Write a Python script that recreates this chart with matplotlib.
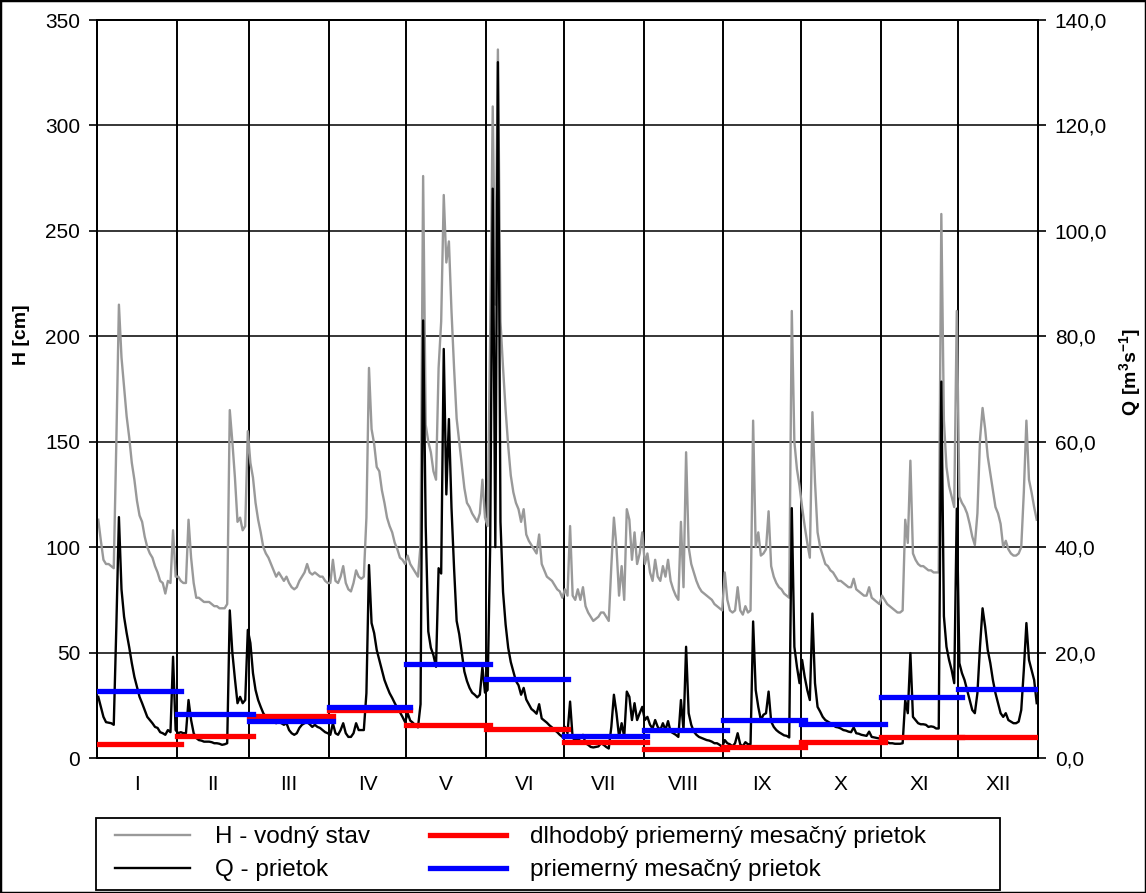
import matplotlib
matplotlib.use("Agg")
import matplotlib.pyplot as plt
from matplotlib.lines import Line2D
from matplotlib.patches import Rectangle
from matplotlib.ticker import FuncFormatter, FixedLocator

plt.rcParams["font.family"] = ["Liberation Sans", "DejaVu Sans"]
plt.rcParams["mathtext.fontset"] = "custom"
plt.rcParams["mathtext.bf"] = "Liberation Sans:bold"
plt.rcParams["mathtext.rm"] = "Liberation Sans"

month_names = ["I", "II", "III", "IV", "V", "VI", "VII", "VIII", "IX", "X", "XI", "XII"]
days_in_month = [31, 28, 31, 30, 31, 30, 31, 31, 30, 31, 30, 31]

# daily water level H [cm]
h_jan = [113, 103, 94, 92, 92, 91, 90, 150, 215, 190, 176, 162, 152, 140, 132, 122, 115, 112, 105, 100,
         97, 95, 91, 88, 84, 83, 78, 84, 83, 108, 86]
h_feb = [86, 84, 83, 83, 113, 95, 83, 76, 76, 75, 74, 74, 74, 73, 72, 72, 71, 71, 71, 73,
         165, 150, 133, 112, 114, 108, 110, 155]
h_mar = [140, 133, 121, 113, 107, 100, 97, 95, 92, 89, 86, 88, 86, 84, 86, 83, 81, 80, 81, 84,
         86, 88, 92, 88, 87, 88, 87, 86, 86, 84, 83]
h_apr = [83, 94, 84, 83, 86, 91, 83, 80, 79, 83, 89, 86, 85, 86, 114, 185, 156, 149, 138, 136,
         127, 121, 114, 110, 107, 102, 99, 95, 94, 92]
h_may = [96, 92, 90, 88, 86, 101, 276, 158, 150, 145, 136, 132, 185, 207, 267, 235, 245, 212, 185, 161,
         150, 139, 128, 121, 119, 116, 114, 112, 116, 132, 114]
h_jun = [110, 200, 309, 215, 336, 207, 185, 165, 148, 134, 126, 121, 118, 112, 118, 106, 103, 101, 99, 97,
         106, 92, 89, 86, 85, 84, 82, 80, 79, 76]
h_jul = [80, 77, 110, 77, 75, 80, 75, 81, 72, 69, 67, 65, 66, 67, 69, 69, 67, 65, 91, 114,
         100, 77, 91, 75, 118, 113, 94, 107, 92, 97, 107]
h_aug = [92, 97, 88, 84, 94, 86, 84, 91, 86, 94, 84, 80, 77, 75, 112, 81, 145, 100, 92, 88,
         84, 81, 79, 78, 77, 76, 75, 73, 72, 71, 70]
h_sep = [88, 75, 70, 69, 70, 81, 70, 68, 72, 69, 70, 160, 100, 107, 96, 97, 99, 117, 91, 86,
         83, 81, 80, 78, 77, 76, 212, 150, 137, 129]
h_oct = [119, 110, 102, 95, 164, 131, 107, 100, 96, 92, 91, 89, 88, 86, 84, 84, 83, 82, 81, 81,
         85, 80, 79, 78, 77, 77, 81, 76, 75, 74, 73]
h_nov = [77, 75, 73, 72, 71, 70, 69, 69, 70, 113, 102, 141, 97, 94, 92, 91, 91, 90, 89, 89,
         88, 88, 88, 258, 160, 138, 129, 124, 119, 212]
h_dec = [124, 121, 119, 116, 111, 105, 101, 116, 151, 166, 156, 143, 135, 127, 119, 116, 111, 100, 103, 99,
         97, 96, 96, 97, 100, 126, 160, 132, 126, 119, 113]

# daily discharge Q [m3/s]
q_jan = [11.6, 9.7, 7.8, 6.8, 6.7, 6.6, 6.3, 24.9, 45.7, 32.0, 26.8, 23.7, 21.0, 18.0, 15.4, 13.5, 11.6, 10.4,
         9.1, 7.8, 7.2, 6.6, 5.9, 5.7, 4.9, 4.7, 4.4, 5.3, 4.9, 19.2, 5.3]
q_feb = [4.7, 4.9, 4.7, 4.7, 11.0, 7.2, 4.7, 3.8, 3.4, 3.3, 3.1, 3.1, 3.1, 3.0, 2.8, 2.8, 2.7, 2.5,
         2.6, 2.8, 28.0, 20.0, 15.0, 10.4, 11.6, 10.4, 11.0, 24.3]
q_mar = [21.8, 16.1, 12.9, 11.0, 9.7, 8.5, 7.8, 7.6, 7.2, 6.8, 6.6, 6.8, 6.6, 6.3, 6.6, 5.3, 4.7, 4.4,
         4.7, 5.7, 6.3, 6.6, 6.8, 6.4, 5.9, 6.3, 5.9, 5.7, 5.3, 4.9, 4.7]
q_apr = [4.4, 6.6, 4.7, 4.4, 5.3, 6.6, 4.7, 4.0, 4.0, 4.7, 6.6, 5.3, 5.3, 5.3, 12.3, 36.6, 25.6, 23.7,
         20.5, 18.6, 16.7, 14.8, 13.5, 12.3, 11.4, 10.4, 9.5, 8.7, 7.8, 6.8]
q_may = [8.5, 7.1, 6.7, 6.2, 5.8, 10.2, 83.0, 44.0, 24.0, 20.9, 19.5, 17.3, 36.0, 35.0, 77.6, 50.0, 64.3, 47.5,
         36.0, 26.0, 23.5, 20.0, 16.4, 14.6, 13.3, 12.4, 12.0, 11.5, 12.0, 17.3, 12.4]
q_jun = [12.9, 40.0, 108.0, 40.0, 132.0, 44.8, 31.5, 25.3, 20.9, 18.2, 16.4, 14.6, 13.8, 12.0, 13.3, 11.1, 10.2, 9.3,
         8.9, 8.4, 10.2, 7.5, 7.1, 6.7, 6.2, 5.8, 5.3, 4.9, 4.4, 4.0]
q_jul = [5.9, 4.7, 10.7, 3.8, 3.4, 3.4, 3.8, 4.4, 2.8, 2.5, 2.1, 2.0, 2.1, 2.2, 2.8, 2.5, 2.1, 1.8,
         5.9, 12.0, 8.5, 4.0, 6.6, 4.0, 12.6, 11.6, 7.2, 10.4, 7.2, 8.5, 9.7]
q_aug = [7.2, 7.8, 6.3, 5.6, 7.2, 5.9, 5.3, 6.6, 5.3, 7.0, 5.0, 4.7, 4.4, 4.0, 11.0, 5.3, 21.1, 8.5,
         6.3, 5.0, 4.4, 4.0, 3.8, 3.6, 3.4, 3.3, 3.1, 2.8, 2.8, 2.5, 2.1]
q_sep = [3.4, 2.8, 2.6, 2.2, 2.8, 4.7, 2.6, 2.2, 3.0, 2.6, 2.6, 25.9, 12.9, 9.7, 7.2, 8.2, 8.5, 12.6,
         6.9, 5.9, 5.3, 4.9, 4.6, 4.3, 4.2, 3.9, 47.4, 21.1, 17.3, 14.2]
q_oct = [18.6, 15.4, 12.9, 11.0, 27.4, 14.2, 9.7, 8.8, 7.8, 7.2, 6.9, 6.6, 6.3, 5.9, 5.8, 5.6, 5.3, 5.2,
         5.0, 4.9, 5.8, 4.7, 4.6, 4.4, 4.3, 4.2, 5.0, 4.0, 3.9, 3.8, 3.7]
q_nov = [3.4, 3.1, 3.0, 2.8, 2.8, 2.7, 2.7, 2.7, 2.8, 11.0, 8.5, 19.9, 7.8, 7.2, 6.6, 6.4, 6.4, 6.3,
         5.9, 6.0, 5.9, 5.6, 5.6, 71.4, 26.9, 21.1, 18.6, 16.7, 14.2, 47.3]
q_dec = [18.0, 16.1, 14.8, 12.9, 11.0, 9.1, 8.5, 12.3, 21.1, 28.4, 24.9, 20.5, 18.0, 14.8, 12.3, 10.4, 8.5, 7.8,
         8.5, 7.2, 6.9, 6.6, 6.6, 6.9, 9.1, 16.7, 25.6, 18.6, 16.7, 14.8, 10.4]

# monthly discharge [m3/s]
q_longterm = [2.7, 4.2, 8.0, 9.1, 6.3, 5.5, 3.0, 1.8, 2.0, 3.0, 3.9, 3.9]
q_monthly = [12.7, 8.35, 7.1, 9.6, 17.8, 15.0, 4.2, 5.3, 7.2, 6.45, 11.6, 13.15]


def main():
    h_months = [h_jan, h_feb, h_mar, h_apr, h_may, h_jun, h_jul, h_aug, h_sep, h_oct, h_nov, h_dec]
    q_months = [q_jan, q_feb, q_mar, q_apr, q_may, q_jun, q_jul, q_aug, q_sep, q_oct, q_nov, q_dec]
    h = [v for m in h_months for v in m]
    q = [v for m in q_months for v in m]
    days = [i + 0.5 for i in range(len(h))]

    bounds = [0]
    for n in days_in_month:
        bounds.append(bounds[-1] + n)
    centers = [(bounds[i] + bounds[i + 1]) / 2 for i in range(12)]

    W, H = 1146, 893
    fig = plt.figure(figsize=(W / 100, H / 100), dpi=100)
    ax = fig.add_axes([97 / W, 1 - 758 / H, 941 / W, 738 / H])
    ax2 = ax.twinx()

    ax.plot(days, h, color="#999999", lw=1.7, zorder=2)
    ax2.plot(days, q, color="black", lw=1.7, zorder=2)
    for i in range(12):
        x0, x1 = bounds[i], bounds[i + 1] + 1.5
        ax2.plot([x0, x1], [q_longterm[i], q_longterm[i]], color="#ff0000", lw=3.8, zorder=3)
        ax2.plot([x0, x1], [q_monthly[i], q_monthly[i]], color="#0000ff", lw=3.8, zorder=4)

    ax.set_xlim(0, bounds[-1])
    ax.set_ylim(0, 350)
    ax2.set_ylim(0, 140)
    ax.set_yticks(range(0, 351, 50))
    ax2.set_yticks(range(0, 141, 20))
    ax2.yaxis.set_major_formatter(FuncFormatter(lambda v, p: f"{v:.1f}".replace(".", ",")))

    ax.xaxis.set_major_locator(FixedLocator(bounds))
    ax.xaxis.set_minor_locator(FixedLocator(centers))
    ax.set_xticklabels([], minor=False)
    ax.set_xticklabels(month_names, minor=True)
    ax.tick_params(axis="x", which="both", length=0, labelsize=15, pad=12)
    ax.grid(True, axis="x", which="major", color="black", lw=1.4)
    ax.grid(True, axis="y", which="major", color="black", lw=1.1)
    ax.set_axisbelow(True)

    ax.tick_params(axis="y", direction="out", length=6, width=1.2, labelsize=15, pad=6)
    ax2.tick_params(axis="y", direction="out", length=6, width=1.2, labelsize=15, pad=6)
    for a in (ax, ax2):
        for s in a.spines.values():
            s.set_linewidth(1.4)
            s.set_color("black")

    fig.text(22 / W, 1 - 335 / H, "H [cm]", rotation=90, ha="center", va="center",
             fontsize=14, fontweight="bold")
    fig.text(1130 / W, 1 - 372 / H, r"$\mathbf{Q\ [m^{3}s^{-1}]}$", rotation=90,
             ha="center", va="center", fontsize=14)

    # legend: frame drawn separately so it can be wider than its contents
    fig.patches.append(Rectangle((96 / W, 1 - 890 / H), 904 / W, 72 / H, transform=fig.transFigure,
                                 fill=False, edgecolor="black", lw=1.3))
    handles = [
        Line2D([], [], color="#999999", lw=1.7),
        Line2D([], [], color="black", lw=1.7),
        Line2D([], [], color="#ff0000", lw=3.8),
        Line2D([], [], color="#0000ff", lw=3.8),
    ]
    labels = ["H - vodný stav", "Q - prietok", "dlhodobý priemerný mesačný prietok", "priemerný mesačný prietok"]
    fig.legend(handles, labels, loc="upper left", ncol=2, frameon=False,
               bbox_to_anchor=(115 / W, 1 - 826 / H), fontsize=17.5,
               handlelength=3.1, handletextpad=1.0, columnspacing=2.5,
               borderaxespad=0, borderpad=0, labelspacing=0.46)

    fig.patches.append(Rectangle((0, 0), 1, 1, transform=fig.transFigure, fill=False,
                                 edgecolor="black", lw=2.5))

    fig.savefig("out.png", dpi=100)


if __name__ == "__main__":
    main()
